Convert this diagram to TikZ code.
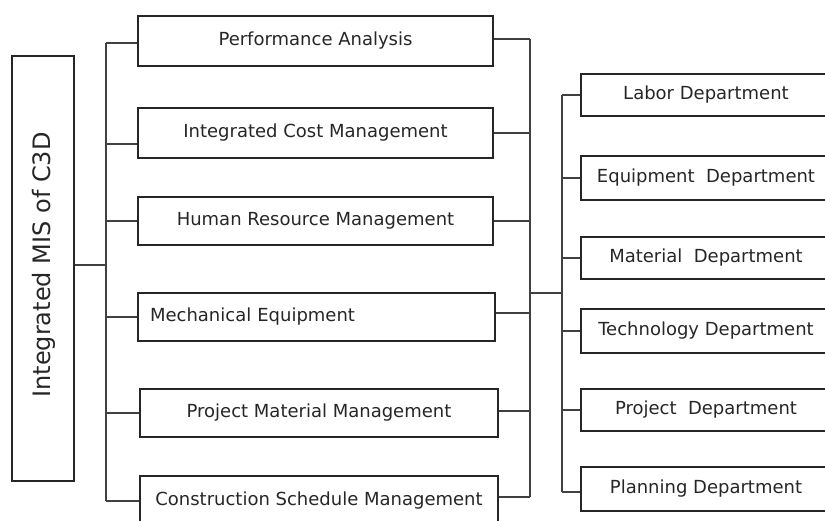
\documentclass[tikz,border=0pt]{standalone}
\usepackage{fontspec}
\setmainfont{DejaVu Sans}
\begin{document}
\begin{tikzpicture}[x=1pt,y=-1pt,
  box/.style={draw=black!85, line width=1.3pt, rectangle, inner sep=0pt,
              font=\fontsize{18}{20}\selectfont, text=black!85},
  conn/.style={draw=black!75, line width=1.3pt}]
\useasboundingbox (0,0) rectangle (825,521);
\clip (0,0) rectangle (825,521);
% root
\node[box, minimum width=62pt, minimum height=425pt] (root) at (43,268.5) {};
\node[rotate=90, font=\fontsize{24}{26}\selectfont, text=black!85, inner sep=0pt] (rootlabel) at (44,265) {Integrated MIS of C3D};
% middle column
\node[box, minimum width=355pt, minimum height=50pt] (m1) at (315.5,41) {Performance Analysis};
\node[box, minimum width=355pt, minimum height=50pt] (m2) at (315.5,133) {Integrated Cost Management};
\node[box, minimum width=355pt, minimum height=48pt] (m3) at (315.5,221) {Human Resource Management};
\node[box, minimum width=357pt, minimum height=48pt, text width=333pt, align=left] (m4) at (316.5,317) {Mechanical Equipment};
\node[box, minimum width=358pt, minimum height=48pt] (m5) at (319,413) {Project Material Management};
\node[box, minimum width=358pt, minimum height=50pt] (m6) at (319,501) {Construction Schedule Management};
% right column
\node[box, minimum width=250pt, minimum height=42pt] (r1) at (706,95) {Labor Department};
\node[box, minimum width=250pt, minimum height=44pt] (r2) at (706,178) {Equipment\ \ Department};
\node[box, minimum width=250pt, minimum height=42pt] (r3) at (706,258) {Material\ \ Department};
\node[box, minimum width=250pt, minimum height=44pt] (r4) at (706,331) {Technology Department};
\node[box, minimum width=250pt, minimum height=42pt] (r5) at (706,410) {Project\ \ Department};
\node[box, minimum width=250pt, minimum height=44pt] (r6) at (706,489) {Planning Department};
% coordinates of trunks
\coordinate (lt) at (106,43);
\coordinate (ja) at (106,265);
\coordinate (rt) at (530,39);
\coordinate (jb) at (530,293);
\coordinate (jc) at (562,293);
% root to left trunk
\draw[conn] (root.east |- ja) -- (ja);
% left trunk
\draw[conn] (lt) -- (lt |- m6.west);
\draw[conn] (lt) -- (m1.west |- lt);
\draw[conn] ([yshift=-11pt]m2.west) -- ([yshift=-11pt]m2.west -| lt);
\draw[conn] (m3.west) -- (m3.west -| lt);
\draw[conn] (m4.west) -- (m4.west -| lt);
\draw[conn] (m5.west) -- (m5.west -| lt);
\draw[conn] (m6.west) -- (m6.west -| lt);
% middle-right trunk
\draw[conn] (rt) -- ([yshift=4pt]m6.east -| rt);
\draw[conn] ([yshift=2pt]m1.east) -- (rt);
\draw[conn] (m2.east) -- (m2.east -| rt);
\draw[conn] (m3.east) -- (m3.east -| rt);
\draw[conn] ([yshift=4pt]m4.east) -- ([yshift=4pt]m4.east -| rt);
\draw[conn] ([yshift=2pt]m5.east) -- ([yshift=2pt]m5.east -| rt);
\draw[conn] ([yshift=4pt]m6.east) -- ([yshift=4pt]m6.east -| rt);
% link
\draw[conn] (jb) -- (jc);
% right trunk
\draw[conn] (r1.west -| jc) -- ([yshift=-3pt]r6.west -| jc);
\draw[conn] (r1.west) -- (r1.west -| jc);
\draw[conn] (r2.west) -- (r2.west -| jc);
\draw[conn] (r3.west) -- (r3.west -| jc);
\draw[conn] (r4.west) -- (r4.west -| jc);
\draw[conn] (r5.west) -- (r5.west -| jc);
\draw[conn] ([yshift=-3pt]r6.west) -- ([yshift=-3pt]r6.west -| jc);
\end{tikzpicture}
\end{document}
